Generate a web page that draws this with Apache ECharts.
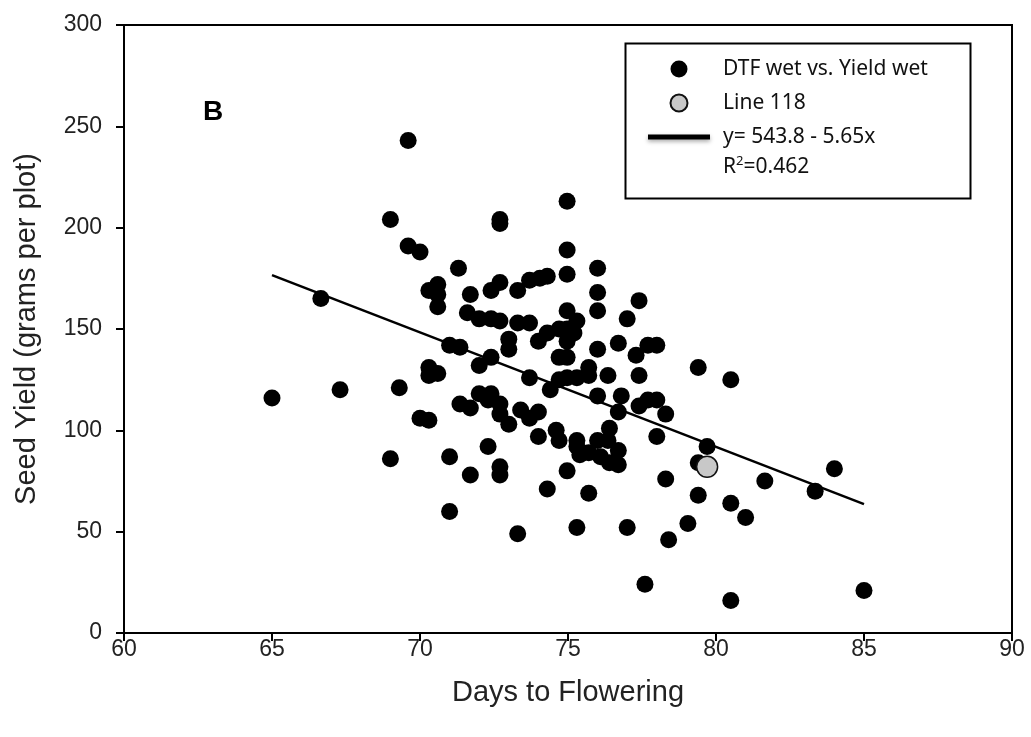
<!DOCTYPE html>
<html>
<head>
<meta charset="utf-8">
<script src="https://cdn.jsdelivr.net/npm/echarts@6/dist/echarts.min.js"></script>
<style>
html,body{margin:0;padding:0;background:#fff;}
#c{width:1031px;height:737px;}
</style>
</head>
<body>
<div id="c"></div>
<script>
// Days to flowering (x) and seed yield (y)
const dtfWet = [
65.0,66.65,67.3,69.0,69.0,69.3,69.6,69.6,70.0,70.0,70.3,70.3,70.6,70.6,70.6,70.3,70.3,70.6,71.0,71.35,
71.0,71.0,71.3,71.35,71.7,71.6,71.7,71.7,72.0,72.0,72.4,72.4,72.4,72.3,72.3,72.4,72.0,72.7,72.7,72.7,
72.7,72.7,72.7,72.7,72.7,73.0,73.0,73.0,73.3,73.3,73.4,73.3,73.7,73.7,73.7,73.7,74.05,74.3,74.0,74.0,
74.3,74.0,74.3,74.4,74.7,74.7,74.7,74.6,74.97,74.97,74.97,74.97,74.97,74.97,74.97,74.97,74.97,74.7,75.2,75.3,
75.3,75.3,75.3,75.3,75.4,75.7,75.7,75.7,75.7,76.0,76.0,76.0,76.0,76.0,76.0,76.1,76.35,76.35,76.4,76.4,
76.7,76.7,76.8,76.7,76.7,77.0,77.0,77.4,77.3,77.4,77.4,77.6,77.7,77.7,78.0,78.0,78.0,78.3,78.3,78.4,
79.05,79.4,79.4,79.7,79.4,80.5,80.5,80.5,81.0,81.65,83.35,84.0,85.0
];
const yieldWet = [
116,165,120,204,86,121,243,191,188,106,169,105,172,167,161,131,127,128,142,141,
87,60,180,113,167,158,111,78,132,155,169,136,118,115,92,155,118,204,202,173,
154,113,108,82,78,140,145,103,169,153,110,49,153,126,106,174,175,176,144,97,
148,109,71,120,150,136,95,100,213,189,177,159,150,144,136,126,80,125,148,154,
126,95,92,52,88,131,127,69,89,180,168,159,140,117,95,87,127,95,101,84,
143,109,117,90,83,52,155,164,137,127,112,24,142,115,142,115,97,108,76,46,
54,131,68,92,84,16,125,64,57,75,70,81,21
];
// Line 118
const line118X = [79.7];
const line118Y = [82];
// Regression line endpoints (y = 543.8 - 5.65x)
const fitX = [65, 85];
const fitY = [176.55, 63.55];
const xTicks = [60, 65, 70, 75, 80, 85, 90];
const yTicks = [0, 50, 100, 150, 200, 250, 300];

const scatterData = dtfWet.map((x, i) => [x, yieldWet[i]]);
const line118Data = line118X.map((x, i) => [x, line118Y[i]]);
const fitData = fitX.map((x, i) => [x, fitY[i]]);

const chart = echarts.init(document.getElementById('c'), null, {renderer: 'canvas'});
const FONT = '"Liberation Sans", Arial, sans-serif';
const LFONT = '"Noto Sans", "Liberation Sans", sans-serif';
chart.setOption({
  animation: false,
  backgroundColor: '#fff',
  grid: {left: 124, right: 19, top: 25, bottom: 104, show: true, borderColor: '#000', borderWidth: 2, backgroundColor: 'transparent'},
  xAxis: {
    type: 'value', min: xTicks[0], max: xTicks[xTicks.length - 1], interval: 5,
    name: 'Days to Flowering', nameLocation: 'middle', nameGap: 45,
    nameTextStyle: {fontFamily: FONT, fontSize: 29, color: '#222'},
    axisLine: {onZero: false, lineStyle: {color: '#000', width: 2}},
    axisTick: {show: true, length: 8, lineStyle: {color: '#000', width: 2}},
    axisLabel: {fontFamily: FONT, fontSize: 23, color: '#222', margin: 5},
    splitLine: {show: false}
  },
  yAxis: {
    type: 'value', min: yTicks[0], max: yTicks[yTicks.length - 1], interval: 50,
    name: 'Seed Yield (grams per plot)', nameLocation: 'middle', nameGap: 83,
    nameTextStyle: {fontFamily: FONT, fontSize: 29, color: '#222'},
    axisLine: {onZero: false, lineStyle: {color: '#000', width: 2}},
    axisTick: {show: true, length: 8, lineStyle: {color: '#000', width: 2}},
    axisLabel: {fontFamily: FONT, fontSize: 23, color: '#222', margin: 22},
    splitLine: {show: false}
  },
  legend: {
    orient: 'vertical', left: 643, top: 53, itemWidth: 62, itemHeight: 17, itemGap: 12,
    textStyle: {fontFamily: LFONT, fontSize: 21, lineHeight: 22, color: '#111', padding: [0, 0, 0, 8]},
    data: [
      {name: 'DTF wet vs. Yield wet', icon: 'circle'},
      {name: 'Line 118', icon: 'circle'},
      {name: 'y= 543.8 - 5.65x', icon: 'path://M0,0 L62,0 L62,5 L0,5 Z', itemStyle: {color: '#000', shadowBlur: 4, shadowColor: 'rgba(0,0,0,0.35)', shadowOffsetY: 2}}
    ]
  },
  graphic: [
    {type: 'rect', left: 623, top: 41, shape: {width: 345, height: 155}, style: {fill: 'none', stroke: '#000', lineWidth: 2}, z: 1},
    {type: 'text', left: 723, top: 155, z: 10, style: {
      text: '{b|R}{s|2}{b|=0.462}',
      rich: {
        b: {fontFamily: LFONT, fontSize: 21, fill: '#111', verticalAlign: 'bottom'},
        s: {fontFamily: LFONT, fontSize: 13, fill: '#111', verticalAlign: 'top', padding: [0, 0, 10, 0]}
      }
    }},
    {type: 'text', left: 203, top: 98, z: 10, style: {text: 'B', fontFamily: FONT, fontWeight: 'bold', fontSize: 28, fill: '#000'}}
  ],
  series: [
    {
      name: 'DTF wet vs. Yield wet', type: 'scatter', data: scatterData,
      symbol: 'circle', symbolSize: 17, itemStyle: {color: '#000', opacity: 1}, z: 3
    },
    {
      name: 'y= 543.8 - 5.65x', type: 'line', data: fitData, symbol: 'none',
      itemStyle: {color: '#000'},
      lineStyle: {color: '#000', width: 2.5}, z: 4
    },
    {
      name: 'Line 118', type: 'scatter', data: line118Data,
      symbol: 'circle', symbolSize: 21, itemStyle: {color: '#c8c8c8', borderColor: '#111', borderWidth: 1.5, opacity: 1}, z: 5
    }
  ]
});
</script>
</body>
</html>
